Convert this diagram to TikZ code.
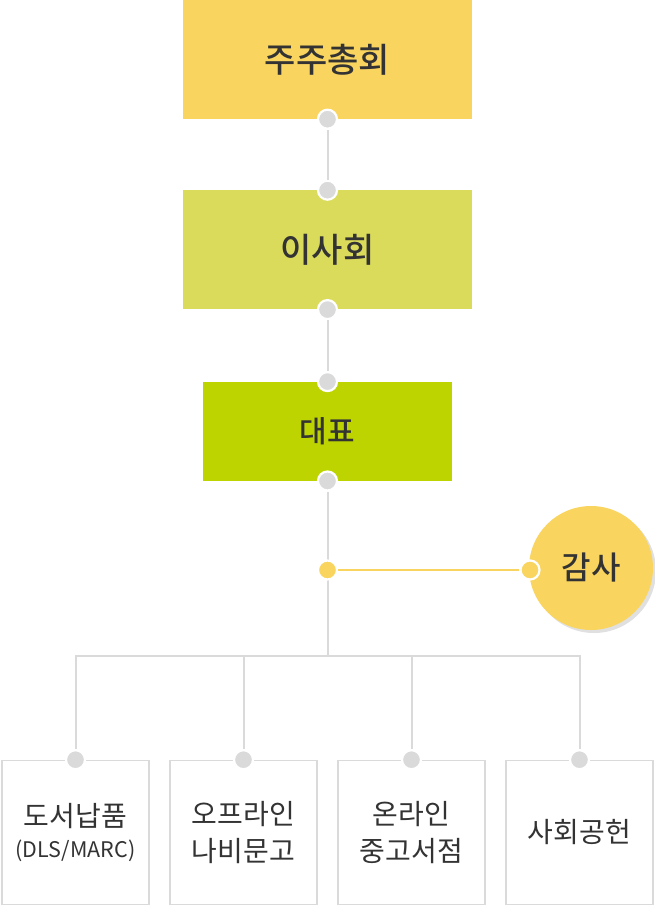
\documentclass[tikz,border=0pt]{standalone}
\usepackage{fontspec}
\setmainfont{Noto Sans CJK KR}[BoldFont={Noto Sans CJK KR Medium}]
\usetikzlibrary{positioning,shadows}
\definecolor{meetcol}{HTML}{F9D55F}
\definecolor{boardcol}{HTML}{DADB5A}
\definecolor{ceocol}{HTML}{BDD400}
\definecolor{linegray}{HTML}{DADADA}
\definecolor{textdark}{HTML}{333333}

\begin{document}
\begin{tikzpicture}[
    x=1pt, y=1pt,
    node distance=71pt,
    topbox/.style={minimum width=289pt, minimum height=119pt, inner sep=0pt, text=textdark, font=\fontsize{34}{40}\selectfont\bfseries},
    ceobox/.style={minimum width=249pt, minimum height=99pt, inner sep=0pt, text=textdark, fill=ceocol, font=\fontsize{30}{36}\selectfont\bfseries},
    auditnode/.style={circle, fill=meetcol, minimum size=124pt, inner sep=0pt, text=textdark, font=\fontsize{32}{38}\selectfont\bfseries, drop shadow={shadow xshift=3pt, shadow yshift=-3pt, fill=black!12, opacity=1}},
    unitbox/.style={draw=linegray, line width=1.6pt, fill=white, minimum width=147.5pt, minimum height=144pt, inner sep=0pt, align=center, text=textdark, font=\fontsize{28}{37}\selectfont},
    dot/.style={circle, fill=linegray, draw=white, line width=2.2pt, minimum size=19pt, inner sep=0pt},
    ydot/.style={dot, fill=meetcol},
    gline/.style={draw=linegray, line width=2pt},
    yline/.style={draw=meetcol, line width=2pt}
  ]
    \useasboundingbox (0,0) rectangle (655,-906);

    % 상단 조직
    \node[topbox, fill=meetcol] (meeting) at (327.5,-59.5) {주주총회};
    \node[topbox, fill=boardcol, below=71pt of meeting] (board) {이사회};
    \node[ceobox, below=72pt of board] (ceo) {대표};
    \node[auditnode] (audit) at (591,-568) {감사};

    % 하단 부서
    \node[unitbox] (books) at (75.5,-832.5) {도서납품\\[-6pt]{\fontsize{21.5}{26}\selectfont(DLS/MARC)}};
    \node[unitbox, right=18.9pt of books] (offline) {오프라인\\나비문고};
    \node[unitbox, right=18.9pt of offline] (online) {온라인\\중고서점};
    \node[unitbox, right=18.9pt of online] (social) {사회공헌};

    % 연결점
    \node[dot] (m1) at (meeting.south) {};
    \node[dot] (b1) at (board.north) {};
    \node[dot] (b2) at (board.south) {};
    \node[dot] (c1) at (ceo.north) {};
    \node[dot] (c2) at (ceo.south) {};
    \coordinate (split) at (327.5,-656);
    \foreach \n in {books,offline,online,social}
      \node[dot] (\n-in) at (\n.north) {};

    \draw[gline] (m1) -- (b1);
    \draw[gline] (b2) -- (c1);
    \draw[gline] (c2) -- (split);
    \draw[gline] (books-in) |- (split) -| (social-in);
    \draw[gline] (offline-in) -- (offline-in |- split);
    \draw[gline] (online-in) -- (online-in |- split);

    % 감사
    \node[ydot] (a1) at (327.5,-570) {};
    \node[ydot] (a2) at (530,-570) {};
    \draw[yline] (a1) -- (a2);
  \end{tikzpicture}
\end{document}
